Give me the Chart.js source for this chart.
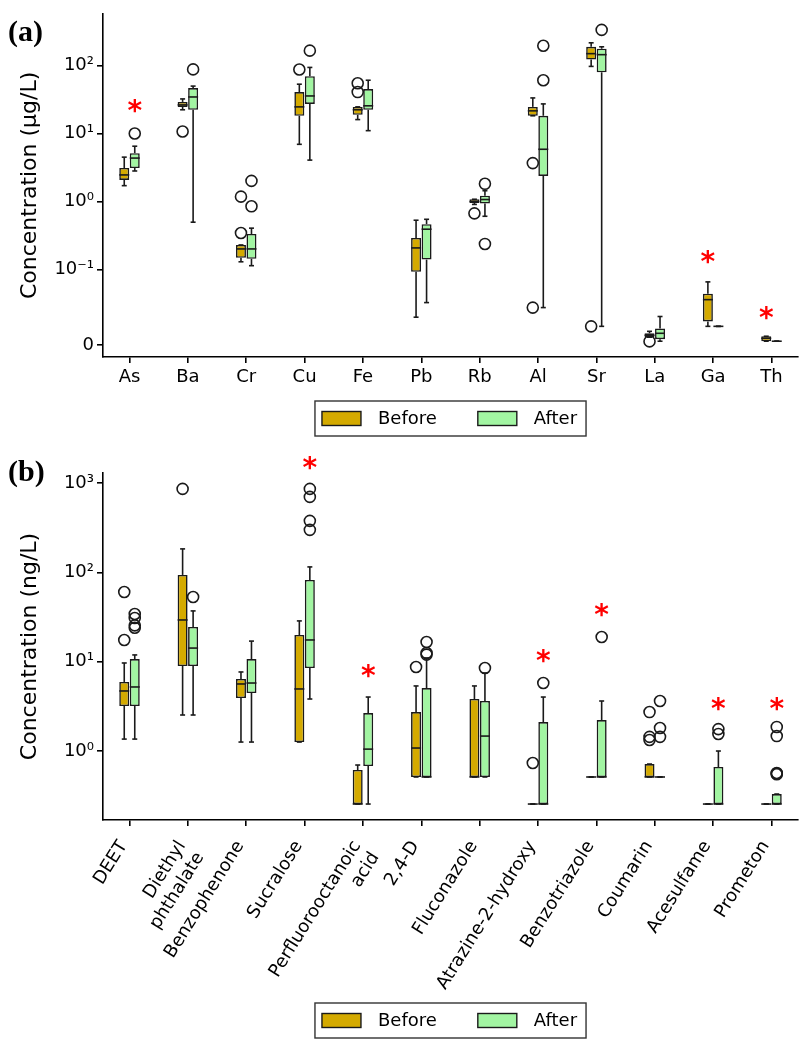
<!DOCTYPE html>
<html lang="en">
<head>
<meta charset="UTF-8">
<title>Concentrations before and after</title>
<script src="https://cdn.jsdelivr.net/npm/chart.js"></script>
<style>
  body { margin: 0; background: #fff; }
  #wrap { position: relative; width: 811px; height: 1050px; }
  canvas { position: absolute; left: 0; }
  .tag { position: absolute; left: 8px; font: bold 30px "Liberation Serif", serif; line-height: 1; }
</style>
</head>
<body>
<div id="wrap">
  <canvas id="chartA" width="811" height="445" style="top:0"></canvas>
  <canvas id="chartB" width="811" height="605" style="top:445px"></canvas>
  <div class="tag" style="top:16px">(a)</div>
  <div class="tag" style="top:456px">(b)</div>
</div>
<script>
// ---------- panel (a): metals, µg/L ----------
const metals = ['As', 'Ba', 'Cr', 'Cu', 'Fe', 'Pb', 'Rb', 'Al', 'Sr', 'La', 'Ga', 'Th'];
// each row: [lower whisker, Q1, median, Q3, upper whisker]
const metalsBefore = [
  [1.71, 2.08, 2.46, 3.11, 4.49],
  [22.3, 24.6, 26.3, 29.1, 32.2],
  [0.13, 0.149, 0.201, 0.23, 0.23],
  [6.93, 18.2, 24.6, 40.6, 53],
  [16.0, 18.8, 22.3, 24.6, 24.6],
  [0.037, 0.097, 0.208, 0.291, 0.531],
  [0.906, 0.95, 1.0, 1.08, 1.08],
  [18.2, 18.2, 21.5, 24.6, 33.3],
  [96.8, 122, 149, 188, 215],
  [0.0105, 0.0105, 0.0131, 0.0157, 0.0183],
  [0.0249, 0.0314, 0.0602, 0.068, 0.0837],
  [0.0052, 0.0052, 0.0091, 0.0118, 0.0118]
];
const metalsAfter = [
  [2.81, 3.11, 4.35, 5.13, 6.5],
  [0.497, 22.3, 34.4, 46.5, 49.7],
  [0.114, 0.144, 0.201, 0.333, 0.406],
  [4.06, 27.2, 35.6, 69.3, 93.5],
  [11.0, 22.3, 25.5, 44.9, 60.6],
  [0.0563, 0.14, 0.392, 0.465, 0.548],
  [0.607, 0.935, 1.07, 1.22, 1.44],
  [0.0497, 2.38, 5.86, 18.2, 27.2],
  [0.0249, 79.3, 144, 176, 188],
  [0.0052, 0.0079, 0.0157, 0.0222, 0.0379],
  [0.0249, 0.0249, 0.0249, 0.0249, 0.0249],
  [0.0052, 0.0052, 0.0052, 0.0052, 0.0052]
];
const metalsBeforeOut = [[], [10.7], [0.344, 1.18], [87], [54.8, 40.6], [], [0.67], [3.67, 0.0497], [0.0249], [0.005], [], []];
const metalsAfterOut = [[10.0], [87.5], [0.85, 2.01], [165], [], [], [1.82, 0.238], [195, 60.6], [333], [], [], []];
const metalsStarIdx = [0, 10, 11];
const metalsStarSide = [1, 0, 0];
const metalsStarAt = [23.1, 0.142, 0.039];
const metalsTicks = [0, 0.1, 1, 10, 100];
const metalsTickLabels = ['0', '10\u207B\u00B9', '10\u2070', '10\u00B9', '10\u00B2'];

// ---------- panel (b): organics, ng/L ----------
const organics = ['DEET', ['Diethyl', 'phthalate'], 'Benzophenone', 'Sucralose', ['Perfluorooctanoic', 'acid'],
  '2,4-D', 'Fluconazole', 'Atrazine-2-hydroxy', 'Benzotriazole', 'Coumarin', 'Acesulfame', 'Prometon'];
const organicsBefore = [
  [1.36, 3.19, 4.7, 5.93, 9.67],
  [2.53, 8.95, 29.3, 93.5, 183],
  [1.26, 3.92, 5.63, 6.4, 7.67],
  [1.26, 1.26, 4.95, 19.9, 28.6],
  [0.255, 0.255, 0.255, 0.613, 0.697],
  [0.512, 0.512, 1.08, 2.73, 5.35],
  [0.512, 0.512, 0.512, 3.82, 5.35],
  [0.255, 0.255, 0.255, 0.255, 0.255],
  [0.512, 0.512, 0.512, 0.512, 0.512],
  [0.512, 0.512, 0.512, 0.715, 0.715],
  [0.255, 0.255, 0.255, 0.255, 0.255],
  [0.255, 0.255, 0.255, 0.255, 0.255]
];
const organicsAfter = [
  [1.36, 3.19, 5.21, 10.7, 11.9],
  [2.53, 8.95, 14.2, 24.5, 37],
  [1.26, 4.46, 5.77, 10.7, 17],
  [3.82, 8.5, 17.5, 82.2, 115],
  [0.255, 0.68, 1.05, 2.66, 4.02],
  [0.512, 0.512, 0.512, 5.07, 11.0],
  [0.512, 0.512, 1.47, 3.63, 7.47],
  [0.255, 0.255, 0.255, 2.11, 4.02],
  [0.512, 0.512, 0.512, 2.22, 3.63],
  [0.512, 0.512, 0.512, 0.512, 0.512],
  [0.255, 0.255, 0.255, 0.662, 1.0],
  [0.255, 0.255, 0.255, 0.33, 0.33]
];
const organicsBeforeOut = [[60.3, 17.5], [859], [], [], [], [8.72], [], [0.734], [], [2.73, 1.44, 1.33], [], []];
const organicsAfterOut = [[34.2, 30.8, 25.5, 24.0], [53], [], [859, 699, 377, 299], [], [16.6, 12.5, 12.0], [8.5],
  [5.77], [18.9], [3.63, 1.81, 1.44], [1.76, 1.55], [1.86, 1.47, 0.567, 0.56, 0.55]];
const organicsStarIdx = [3, 4, 7, 8, 10, 11];
const organicsStarSide = [1, 1, 1, 1, 1, 1];
const organicsStarAt = [1596, 7.47, 11.0, 36, 3.19, 3.19];
const organicsTicks = [1, 10, 100, 1000];
const organicsTickLabels = ['10\u2070', '10\u00B9', '10\u00B2', '10\u00B3'];

const seriesNames = ['Before', 'After'];
const BEFORE = '#d4aa00';
const AFTER = '#a2f5a2';
const INK = '#1a1a1a';
const FONT = '"DejaVu Sans", sans-serif';

Chart.defaults.font.family = FONT;
Chart.defaults.color = '#000';

// matplotlib-style symlog, linthresh 0.1, linscale 1
const LINTHRESH = 0.1, LINSCALE = 1 / (1 - 1 / 10);
function symlog(v) {
  const a = Math.abs(v);
  const t = a <= LINTHRESH ? a / LINTHRESH * LINSCALE : LINSCALE + Math.log10(a / LINTHRESH);
  return Math.sign(v) * t;
}
const ident = v => v;

function boxPlugin(stats, outs, tf, star, legendY) {
  return {
    id: 'boxes',
    afterDatasetsDraw(chart) {
      const ctx = chart.ctx, ys = chart.scales.y;
      const py = v => ys.getPixelForValue(tf(v));
      const seg = (x1, y1, x2, y2) => { ctx.beginPath(); ctx.moveTo(x1, y1); ctx.lineTo(x2, y2); ctx.stroke(); };
      ctx.save();
      ctx.strokeStyle = INK;
      ctx.lineWidth = 1.6;
      stats.forEach((set, d) => {
        const meta = chart.getDatasetMeta(d);
        set.forEach((s, i) => {
          const el = meta.data[i];
          const cx = el.x, hw = el.width / 2, cw = el.width / 4;
          const [lo, q1, med, q3, hi] = s.map(py);
          seg(cx, q1, cx, lo);
          seg(cx, q3, cx, hi);
          seg(cx - cw, lo, cx + cw, lo);
          seg(cx - cw, hi, cx + cw, hi);
          seg(cx - hw, med, cx + hw, med);
          outs[d][i].forEach(v => {
            ctx.beginPath();
            ctx.arc(cx, py(v), 5.5, 0, Math.PI * 2);
            ctx.stroke();
          });
        });
      });
      // significance stars
      ctx.fillStyle = '#ff0000';
      ctx.font = 'bold 28px ' + FONT;
      ctx.textAlign = 'center';
      ctx.textBaseline = 'alphabetic';
      star.idx.forEach((i, k) => {
        const el = chart.getDatasetMeta(star.side[k]).data[i];
        ctx.fillText('*', el.x, py(star.at[k]) + 0.42 * 28);
      });
      ctx.restore();
    },
    afterDraw(chart) {
      const ctx = chart.ctx, area = chart.chartArea;
      ctx.save();
      ctx.font = '18px ' + FONT;
      const tw = chart.data.datasets.map(ds => ctx.measureText(ds.label).width);
      const patchW = 39, patchH = 14, gapText = 17, gapItem = 41;
      const width = 7 + patchW + gapText + tw[0] + gapItem + patchW + gapText + tw[1] + 9;
      const left = (area.left + area.right) / 2 - width / 2;
      ctx.strokeStyle = '#333';
      ctx.lineWidth = 1.4;
      ctx.strokeRect(left, legendY - 17.5, width, 35);
      let x = left + 7;
      ctx.textBaseline = 'middle';
      chart.data.datasets.forEach((ds, k) => {
        ctx.fillStyle = ds.backgroundColor;
        ctx.fillRect(x, legendY - patchH / 2, patchW, patchH);
        ctx.strokeStyle = INK;
        ctx.lineWidth = 1.4;
        ctx.strokeRect(x, legendY - patchH / 2, patchW, patchH);
        ctx.fillStyle = '#000';
        ctx.fillText(ds.label, x + patchW + gapText, legendY + 1);
        x += patchW + gapText + tw[k] + gapItem;
      });
      ctx.restore();
    }
  };
}

function boxDatasets(before, after, tf) {
  return [before, after].map((set, d) => ({
    label: seriesNames[d],
    data: set.map((s, i) => ({ x: i, y: [tf(s[1]), tf(s[3])] })),
    backgroundColor: d === 0 ? BEFORE : AFTER,
    borderColor: INK,
    borderWidth: 1.6,
    borderSkipped: false,
    categoryPercentage: 0.36,
    barPercentage: 0.95
  }));
}

const axisLine = { color: '#000', width: 1.6 };
const tickGrid = { drawOnChartArea: false, drawTicks: true, tickLength: 6, color: '#000', lineWidth: 1.6 };

function xAxis(names, rot, height, pad, shift) {
  return {
    type: 'linear', min: -0.454, max: 11.454, offset: false,
    afterBuildTicks: s => { s.ticks = names.map((_, i) => ({ value: i })); },
    afterFit: s => { s.height = height; },
    ticks: {
      autoSkip: false, minRotation: rot, maxRotation: rot,
      font: { size: 18 }, padding: pad, labelOffset: shift,
      callback: v => names[Math.round(v)]
    },
    grid: Object.assign({ offset: false }, tickGrid),
    border: axisLine
  };
}

new Chart(document.getElementById('chartA'), {
  type: 'bar',
  data: { datasets: boxDatasets(metalsBefore, metalsAfter, symlog) },
  options: {
    responsive: false,
    animation: false,
    layout: { padding: { top: 10, right: 13, left: 0, bottom: 48 } },
    plugins: { legend: { display: false }, tooltip: { enabled: false } },
    scales: {
      x: xAxis(metals, 0, 40, 4, 0),
      y: {
        type: 'linear', min: -0.174, max: 4.87, bounds: 'data',
        afterBuildTicks: s => { s.ticks = metalsTicks.map(v => ({ value: symlog(v) })); },
        afterFit: s => { s.width = 103; },
        ticks: { font: { size: 18 }, padding: 3, callback: (v, i) => metalsTickLabels[i] },
        title: { display: true, text: 'Concentration (\u00B5g/L)', font: { size: 22 }, padding: { top: 17, bottom: 0 } },
        grid: tickGrid,
        border: axisLine
      }
    }
  },
  plugins: [boxPlugin([metalsBefore, metalsAfter], [metalsBeforeOut, metalsAfterOut], symlog,
    { idx: metalsStarIdx, side: metalsStarSide, at: metalsStarAt }, 418.5)]
});

new Chart(document.getElementById('chartB'), {
  type: 'bar',
  data: { datasets: boxDatasets(organicsBefore, organicsAfter, ident) },
  options: {
    responsive: false,
    animation: false,
    layout: { padding: { top: 28, right: 13, left: 0, bottom: 50 } },
    plugins: { legend: { display: false }, tooltip: { enabled: false } },
    scales: {
      x: xAxis(organics, 58, 180, 11, -6),
      y: {
        type: 'logarithmic', min: 0.169, max: 1294, bounds: 'data',
        afterBuildTicks: s => { s.ticks = organicsTicks.map(v => ({ value: v })); },
        afterFit: s => { s.width = 103; },
        ticks: { font: { size: 18 }, padding: 3, callback: (v, i) => organicsTickLabels[i] },
        title: { display: true, text: 'Concentration (ng/L)', font: { size: 22 }, padding: { top: 17, bottom: 0 } },
        grid: tickGrid,
        border: axisLine
      }
    }
  },
  plugins: [boxPlugin([organicsBefore, organicsAfter], [organicsBeforeOut, organicsAfterOut], ident,
    { idx: organicsStarIdx, side: organicsStarSide, at: organicsStarAt }, 575.5)]
});
</script>
</body>
</html>
